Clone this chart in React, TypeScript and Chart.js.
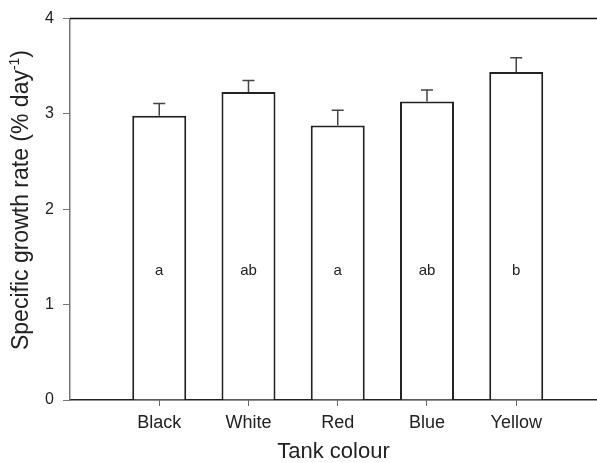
import { useEffect, useRef } from 'react';
import { Chart, registerables } from 'chart.js';

Chart.register(...registerables);

const categories = ['Black', 'White', 'Red', 'Blue', 'Yellow'];
const means = [2.98, 3.23, 2.88, 3.13, 3.44];
const upperErrors = [0.13, 0.12, 0.16, 0.12, 0.15];
const groupLetters = ['a', 'ab', 'a', 'ab', 'b'];
const yTickValues = [0, 1, 2, 3, 4];

const W = 597;
const H = 463;
const FONT = "'Liberation Sans', Arial, Helvetica, sans-serif";

const decorations = {
  id: 'decorations',
  afterDatasetsDraw(chart: any) {
    const { ctx, chartArea } = chart;
    const xs = chart.scales.x;
    const ys = chart.scales.y;
    ctx.save();
    // error bars
    ctx.strokeStyle = '#444';
    ctx.lineWidth = 1.5;
    means.forEach((m, i) => {
      const x = xs.getPixelForValue(i + 1);
      const y0 = ys.getPixelForValue(m);
      const y1 = ys.getPixelForValue(m + upperErrors[i]);
      ctx.beginPath();
      ctx.moveTo(x, y0);
      ctx.lineTo(x, y1);
      ctx.moveTo(x - 6, y1);
      ctx.lineTo(x + 6, y1);
      ctx.stroke();
    });
    // group letters
    ctx.fillStyle = '#222';
    ctx.font = `15px ${FONT}`;
    ctx.textAlign = 'center';
    ctx.textBaseline = 'middle';
    groupLetters.forEach((g, i) => {
      ctx.fillText(g, xs.getPixelForValue(i + 1), ys.getPixelForValue(1.35));
    });
    // top frame line
    ctx.strokeStyle = '#111';
    ctx.lineWidth = 1.5;
    ctx.beginPath();
    ctx.moveTo(chartArea.left, chartArea.top);
    ctx.lineTo(chartArea.right, chartArea.top);
    ctx.stroke();
    ctx.restore();
  },
  afterDraw(chart: any) {
    const { ctx } = chart;
    ctx.save();
    ctx.translate(22, 200);
    ctx.rotate(-Math.PI / 2);
    ctx.fillStyle = '#222';
    ctx.textBaseline = 'middle';
    ctx.textAlign = 'left';
    const mainFont = `23px ${FONT}`;
    const supFont = `14px ${FONT}`;
    const main = 'Specific growth rate (% day';
    const sup = '-1';
    const end = ')';
    ctx.font = mainFont;
    const w1 = ctx.measureText(main).width;
    const w3 = ctx.measureText(end).width;
    ctx.font = supFont;
    const w2 = ctx.measureText(sup).width;
    const total = w1 + w2 + w3;
    let x = -total / 2;
    ctx.font = mainFont;
    ctx.fillText(main, x, 0);
    x += w1;
    ctx.font = supFont;
    ctx.fillText(sup, x, -7);
    x += w2;
    ctx.font = mainFont;
    ctx.fillText(end, x, 0);
    ctx.restore();
  },
};

export default function App() {
  const ref = useRef<HTMLCanvasElement>(null);
  useEffect(() => {
    if (!ref.current) return;
    const chart = new Chart(ref.current, {
      type: 'bar',
      data: {
        datasets: [
          {
            data: means.map((m, i) => ({ x: i + 1, y: m })),
            backgroundColor: '#ffffff',
            borderColor: '#222',
            borderWidth: 2,
            barPercentage: 0.605,
            categoryPercentage: 1,
          } as any,
        ],
      },
      options: {
        responsive: false,
        animation: false,
        devicePixelRatio: 1,
        layout: { padding: { top: 15, right: 0, left: 0, bottom: 0 } },
        plugins: { legend: { display: false }, tooltip: { enabled: false } },
        scales: {
          x: {
            type: 'linear',
            offset: false,
            min: 0,
            max: 5.905,
            afterBuildTicks: (s: any) => {
              s.ticks = categories.map((_, i) => ({ value: i + 1 }));
            },
            afterFit: (s: any) => {
              s.height = 63;
            },
            ticks: {
              callback: (v: any) => categories[Number(v) - 1] ?? '',
              font: { family: FONT, size: 18 },
              color: '#222',
              padding: 6,
              maxRotation: 0,
              autoSkip: false,
            },
            grid: { offset: false, drawOnChartArea: false, drawTicks: true, tickLength: 6, color: '#666' },
            border: { color: '#222', width: 1.5 },
            title: {
              display: true,
              text: 'Tank colour',
              font: { family: FONT, size: 22, lineHeight: 1.0 },
              color: '#222',
              padding: { top: 0, bottom: 0 },
            },
          },
          y: {
            min: 0,
            max: 4,
            afterBuildTicks: (s: any) => {
              s.ticks = yTickValues.map((v) => ({ value: v }));
            },
            afterFit: (s: any) => {
              s.width = 70;
            },
            ticks: {
              font: { family: FONT, size: 16 },
              color: '#222',
              padding: 9,
            },
            grid: { drawOnChartArea: false, drawTicks: true, tickLength: 7, color: '#777' },
            border: { color: '#777', width: 1.5 },
          },
        },
      },
      plugins: [decorations],
    });
    return () => chart.destroy();
  }, []);
  return (
    <div style={{ position: 'absolute', left: 0, top: 0, width: W, height: H, background: '#fff' }}>
      <canvas ref={ref} width={W} height={H} style={{ display: 'block' }} />
    </div>
  );
}
